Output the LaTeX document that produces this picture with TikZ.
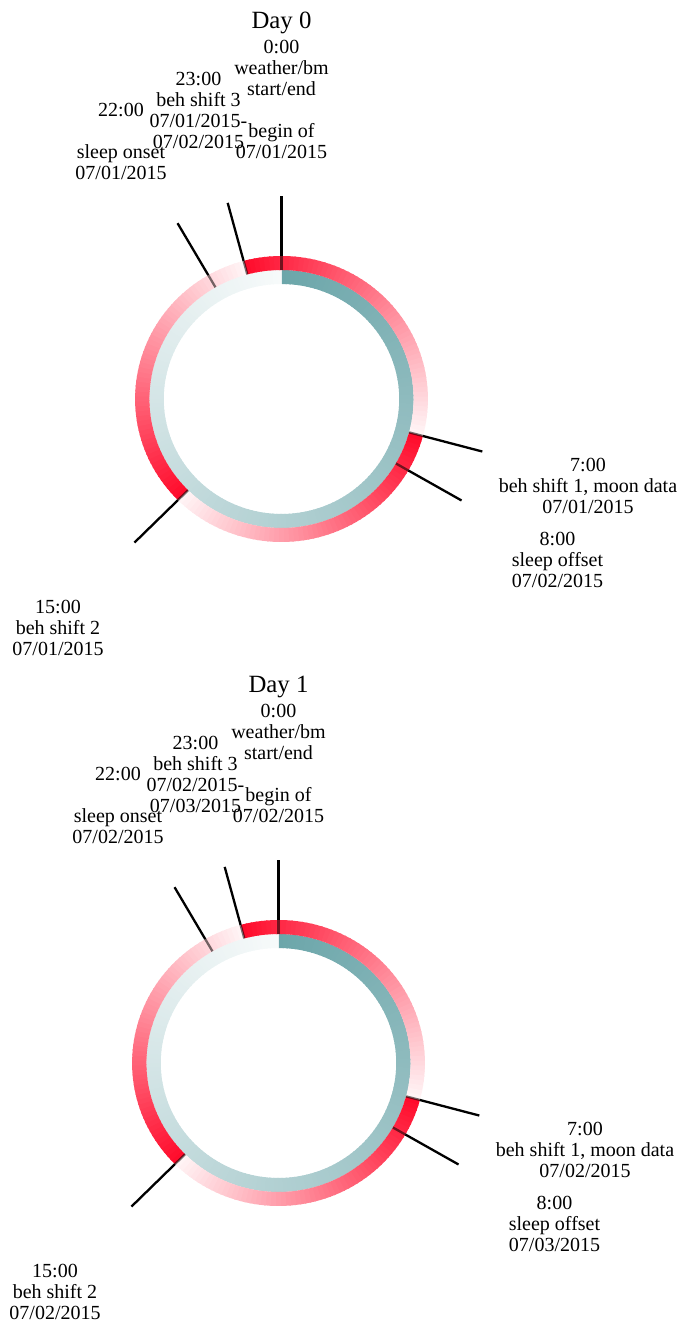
\documentclass[tikz,border=0pt]{standalone}
\usepackage{fontspec}
\setmainfont{Liberation Serif}
\definecolor{shiftred}{RGB}{255,12,44}
\definecolor{bmteal}{RGB}{108,166,170}
\tikzset{
	lbl/.style={font=\fontsize{10}{10.5}\selectfont, align=center, inner sep=0pt},
	daytitle/.style={font=\fontsize{12.4}{14}\selectfont, inner sep=0pt},
	tick/.style={line width=1.15pt, black}
}
\begin{document}
\begin{tikzpicture}[x=0.5pt, y=0.5pt, line join=round]
	\useasboundingbox (0,0) rectangle (678,1322);
	\def\rout{143} % outer radius of the red ring
	\def\rmid{129} % red / teal border
	\def\rin{115} % inner radius of the teal ring
	\def\rtick{203} % end of the ticks
	\foreach \dayno/\cx/\cy/\dd/\dn in {0/281.5/923/1/2, 1/278.5/259/2/3}{
	\begin{scope}[shift={(\cx,\cy)}]
	\begin{scope}[xscale=1.024]
	% teal ring, 0:00 -> 24:00
	\foreach \k in {0,2,...,358}{
		\pgfmathsetmacro\angA{90-\k}
		\pgfmathsetmacro\angB{\angA-min(2.6,360-\k)}
		\pgfmathsetmacro\pct{100-\k/360*95}
		\fill[bmteal!\pct!white] (\angA:\rmid) -- (\angB:\rmid) -- (\angB:\rin) -- (\angA:\rin) -- cycle;
	}
	% red ring, one 8h shift from each start
	\foreach \h in {23,7,15}
	\foreach \k in {0,2,...,118}{
		\pgfmathsetmacro\angA{90-15*\h-\k}
		\pgfmathsetmacro\angB{\angA-min(2.6,120-\k)}
		\pgfmathsetmacro\pct{100-\k/120*97}
		\fill[shiftred!\pct!white] (\angA:\rout) -- (\angB:\rout) -- (\angB:\rmid) -- (\angA:\rmid) -- cycle;
	}
	\foreach \h in {0,7,8,15,22,23}{
		\coordinate (a\h-\dayno) at ({90-15*\h}:\rmid);
		\coordinate (b\h-\dayno) at ({90-15*\h}:\rout);
		\coordinate (c\h-\dayno) at ({90-15*\h}:\rtick);
		\draw[tick, opacity=.55] (a\h-\dayno)--(b\h-\dayno);
		\draw[tick] (b\h-\dayno)--(c\h-\dayno);
	}
	\end{scope}
	\path
	(0,376) node[daytitle] (day\dayno) {Day \dayno}
	(0,299.5) node[lbl] (mid\dayno) {0:00\\weather/bm\\start/end\\\mbox{}\\begin of\\07/0\dd/2015}
	(-83,288.5) node[lbl] (shC\dayno) {23:00\\beh shift 3\\07/0\dd/2015-\\07/0\dn/2015}
	(-160.5,257.5) node[lbl] (onset\dayno) {22:00\\\mbox{}\\sleep onset\\07/0\dd/2015}
	(306.5,-87) node[lbl] (shA\dayno) {7:00\\beh shift 1, moon data\\07/0\dd/2015}
	(276,-161) node[lbl] (offset\dayno) {8:00\\sleep offset\\07/0\dn/2015}
	(-223.5,-229) node[lbl] (shB\dayno) {15:00\\beh shift 2\\07/0\dd/2015};
	\end{scope}
	}
\end{tikzpicture}
\end{document}
